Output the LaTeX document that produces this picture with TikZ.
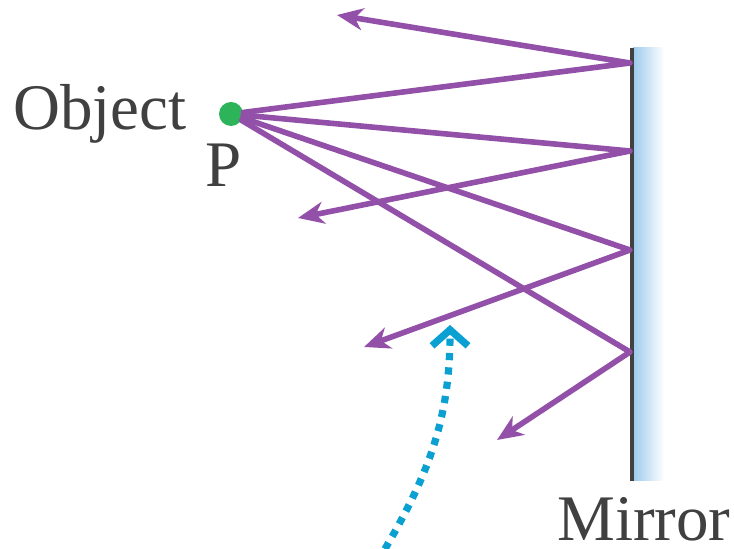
\documentclass[tikz,border=0pt]{standalone}
\usepackage{fontspec}
\setmainfont{Liberation Serif}
\usepackage{tikz}
\usetikzlibrary{arrows.meta}
\definecolor{raypurple}{HTML}{9350A8}
\definecolor{dotgreen}{HTML}{2DB35A}
\definecolor{hintblue}{HTML}{0AA0D2}
\definecolor{glassblue}{HTML}{9CCAEC}
\definecolor{inkgray}{HTML}{404040}

\begin{document}
\begin{tikzpicture}[x=0.5pt,y=-0.5pt,
  ray/.style={raypurple,line width=2.8pt,line cap=round,line join=round},
  txt/.style={inkgray,inner sep=0pt,font=\fontsize{32.5}{39}\selectfont}]
  \useasboundingbox (0,0) rectangle (734,549);
  % mirror
  \shade[left color=glassblue,right color=white] (633,48) rectangle (664,481);
  \draw[line width=1.6pt,inkgray] (632,48) coordinate (mtop) -- (632,481) coordinate (mbot);
  \node[txt,anchor=base east] (mirror) at (731,541) {Mirror};
  % object
  \node[circle,fill=dotgreen,inner sep=0pt,minimum size=12pt] (P) at (231,114) {};
  \node[txt,anchor=base east] (obj) at (187,130) {Object};
  \node[txt,anchor=base] (plabel) at (224,187) {P};
  % rays
  \foreach \i/\my/\ex/\ey in {1/63/337/15, 2/151/298/218, 3/250/364/347, 4/352/497/440}{
    \coordinate (m\i) at (630,\my);
    \coordinate (e\i) at (\ex,\ey);
    \draw[ray,-{Stealth[length=13pt,width=11pt,inset=4pt]}] (P) -- (m\i) -- (e\i);
  }
  % hint arrow
  \coordinate (hs) at (385,549);
  \coordinate (ht) at (450,325);
  \draw[hintblue,line width=3.6pt,dash pattern=on 3.6pt off 3.6pt,
    -{Straight Barb[length=8pt,width=18pt]}] (hs) .. controls (428,475) and (450,420) .. (ht);
\end{tikzpicture}
\end{document}
